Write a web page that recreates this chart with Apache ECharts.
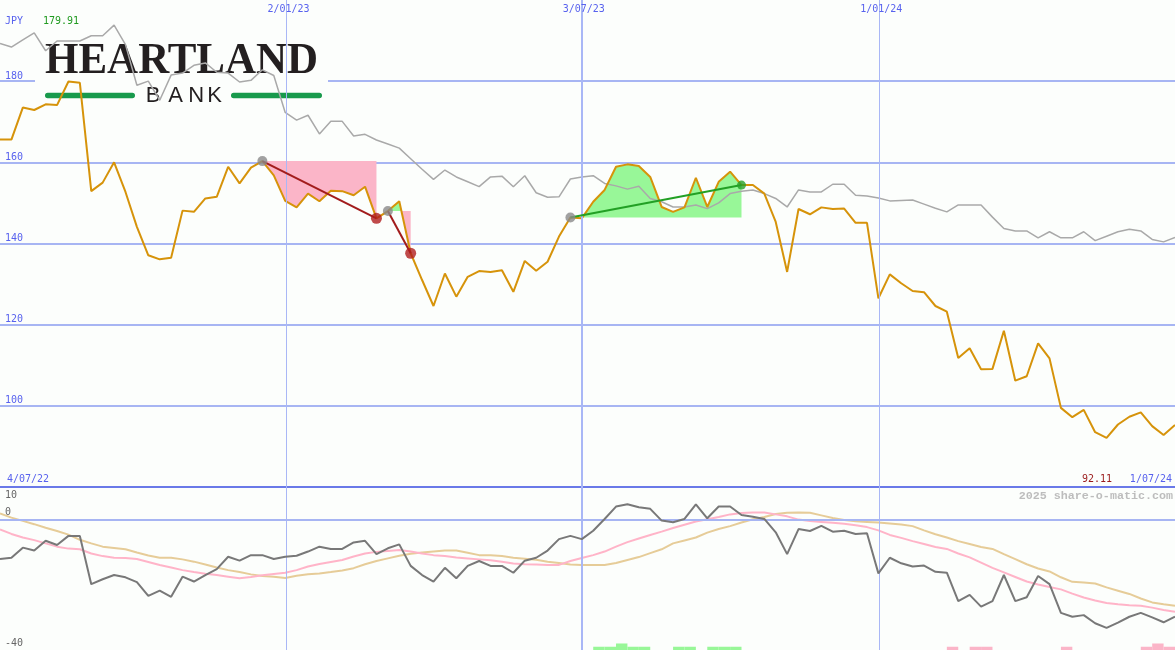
<!DOCTYPE html>
<html><head><meta charset="utf-8">
<script src="https://cdn.jsdelivr.net/npm/echarts@6/dist/echarts.min.js"></script>
<style>html,body{margin:0;padding:0;background:#fcfefc}#c{width:1175px;height:650px}</style>
</head><body><div id="c"></div>
<script>
// ---- data (weekly points, index 0 = first visible week) ----
const price = [
165.6,165.6,173.5,172.9,174.3,174.1,179.91,179.6,152.9,155.0,
160.0,152.7,144.1,137.1,136.1,136.5,148.1,147.8,151.1,151.5,
158.9,154.8,158.7,160.3,156.8,150.5,148.9,152.3,150.4,153.0,
152.9,151.9,154.0,146.2,148.0,150.4,137.6,131.0,124.6,132.6,
126.9,131.8,133.2,133.0,133.4,128.1,135.7,133.3,135.5,141.7,
146.4,146.2,150.3,153.2,158.9,159.5,159.1,156.4,149.0,147.8,
148.9,156.2,149.0,155.2,157.7,154.4,154.4,152.3,145.3,133.0,
148.5,147.2,148.9,148.5,148.6,145.1,145.1,126.5,132.4,130.2,
128.3,128.0,124.6,123.2,111.8,114.2,109.0,109.1,118.5,106.2,
107.3,115.4,111.7,99.5,97.2,99.0,93.5,92.11,95.4,97.3,
98.4,95.0,92.8,95.3];
const relative = [
189.3,188.4,190.2,191.9,187.5,189.9,189.9,189.9,191.2,191.2,
193.8,189.0,179.0,180.0,175.3,181.5,182.0,183.9,184.5,182.2,
182.0,179.8,180.2,182.8,181.4,172.3,170.4,171.6,167.0,170.1,
170.1,166.5,166.9,165.5,164.5,163.5,160.9,158.3,155.8,158.1,
156.4,155.2,154.0,156.4,156.6,154.0,156.7,152.5,151.4,151.5,
155.9,156.4,156.7,154.8,154.2,153.4,154.1,151.1,150.3,149.0,
149.0,149.5,148.6,150.0,152.3,152.9,153.2,152.3,151.1,149.0,
153.2,152.7,152.7,154.6,154.6,151.9,151.7,151.2,150.5,150.6,
150.7,149.7,148.7,147.8,149.5,149.5,149.5,146.5,143.7,143.1,
143.1,141.4,142.9,141.4,141.4,142.9,140.7,141.8,142.9,143.5,
143.1,141.0,140.4,141.5];
const oscillator = [
-12.1,-11.7,-8.6,-9.5,-6.5,-7.8,-5.0,-5.0,-19.8,-18.3,
-17.0,-17.7,-19.2,-23.4,-21.8,-23.7,-17.5,-19.0,-17.0,-15.2,
-11.4,-12.6,-10.9,-10.9,-12.1,-11.4,-11.1,-9.8,-8.3,-9.0,
-9.0,-7.0,-6.5,-10.6,-8.8,-7.6,-14.2,-17.0,-19.0,-14.8,
-18.0,-14.2,-12.7,-14.2,-14.2,-16.3,-12.6,-11.7,-9.5,-6.0,
-5.0,-6.0,-3.4,0.2,4.0,4.7,3.8,3.3,-0.3,-0.8,
0.2,4.7,0.4,4.0,4.0,1.4,0.9,0.2,-3.9,-10.6,
-2.9,-3.5,-1.9,-3.7,-3.4,-4.4,-4.2,-16.5,-11.7,-13.4,
-14.4,-14.1,-16.0,-16.3,-25.0,-23.1,-26.7,-25.0,-17.0,-25.0,
-23.8,-17.3,-19.8,-28.6,-29.8,-29.3,-31.8,-33.2,-31.6,-29.8,
-28.6,-30.0,-31.5,-29.8];
const oscFast = [
-3.0,-4.4,-5.5,-6.3,-7.3,-8.3,-8.9,-9.1,-10.4,-11.2,
-11.7,-11.8,-12.1,-13.0,-13.9,-14.7,-15.5,-16.1,-16.6,-17.0,
-17.5,-18.0,-17.6,-17.1,-16.7,-16.3,-15.5,-14.4,-13.6,-13.0,
-12.4,-11.3,-10.4,-9.9,-9.6,-9.3,-9.8,-10.4,-10.9,-11.2,
-11.6,-11.9,-12.2,-12.5,-12.9,-13.5,-13.7,-13.8,-13.9,-13.9,
-12.7,-11.8,-10.9,-9.8,-8.3,-6.9,-5.8,-4.7,-3.7,-2.6,
-1.6,-0.6,0.1,0.8,1.6,2.0,2.2,2.2,1.6,1.0,
0.0,-0.4,-0.7,-1.0,-1.3,-1.7,-2.3,-3.3,-4.7,-5.6,
-6.6,-7.5,-8.4,-9.0,-10.4,-11.6,-13.2,-14.8,-16.2,-17.6,
-19.0,-19.9,-20.7,-21.4,-22.7,-23.9,-24.8,-25.6,-26.0,-26.3,
-26.4,-27.0,-27.7,-28.3];
const oscSlow = [
1.9,0.6,-0.4,-1.4,-2.5,-3.5,-4.6,-6.2,-7.3,-8.3,
-8.7,-9.1,-10.1,-11.0,-11.7,-11.7,-12.2,-12.9,-13.8,-14.7,
-15.5,-16.1,-16.8,-17.3,-17.5,-17.9,-17.2,-16.8,-16.5,-16.1,
-15.6,-14.9,-13.7,-12.7,-11.9,-11.1,-10.5,-10.1,-9.8,-9.5,
-9.5,-10.2,-10.9,-10.9,-11.2,-11.7,-12.0,-12.3,-12.9,-13.3,
-13.8,-13.9,-13.9,-13.9,-13.3,-12.4,-11.5,-10.3,-9.1,-7.3,
-6.4,-5.5,-4.0,-2.9,-2.0,-0.9,0.1,0.8,1.7,2.1,
2.2,2.1,1.3,0.5,-0.1,-0.5,-0.7,-0.9,-1.2,-1.5,
-2.0,-3.3,-4.5,-5.5,-6.6,-7.5,-8.4,-9.0,-10.6,-12.1,
-13.7,-15.0,-15.9,-17.7,-19.1,-19.3,-19.6,-20.8,-21.8,-22.8,
-24.2,-25.4,-26.0,-26.4];
const trendStart = [23, 34, 50];
const trendEnd = [33, 36, 65];
const trendUp = [false, false, true];
const upSignalWeek = [52,53,54,55,56,59,60,62,63,64];
const upSignalLevel = [1,1,2,1,1,1,1,1,1,1];
const downSignalWeek = [83,85,86,93,100,101,102];
const downSignalLevel = [1,1,1,1,1,2,1];
const gridDates = ['2/01/23','3/07/23','1/01/24'];
const gridDatePos = [25.12, 51.0, 77.08];
const oscTicks = [10, 0, -40];
const firstDate = '4/07/22', lastDate = '1/07/24';
const currency = 'JPY', highLabel = '179.91', lowLabel = '92.11';
const copyright = '2025 share-o-matic.com';

// ---- chart ----
const pts = arr => arr.map((v, i) => [i, v]);
const blue = '#5862ee', gridBlue = '#a7b5f3', vBlue = '#a9b7f6';
const mono = 'DejaVu Sans Mono';
const lastIdx = price.length - 1;

function fillRender(params, api) {
  const z = params.dataIndex;
  const s = trendStart[z], e = trendEnd[z], lvl = price[s];
  const up = [api.coord([s, lvl])], dn = [api.coord([s, lvl])];
  for (let k = s; k <= e; k++) {
    if (k > s) {
      const a = price[k - 1] - lvl, b = price[k] - lvl;
      if (a * b < 0) { const c = api.coord([k - 1 + a / (a - b), lvl]); up.push(c); dn.push(c); }
    }
    up.push(api.coord([k, Math.max(price[k], lvl)]));
    dn.push(api.coord([k, Math.min(price[k], lvl)]));
  }
  up.push(api.coord([e, lvl])); dn.push(api.coord([e, lvl]));
  return { type: 'group', children: [
    { type: 'polygon', shape: { points: up }, style: { fill: '#98f798' } },
    { type: 'polygon', shape: { points: dn }, style: { fill: '#fbb5c8' } }
  ]};
}

const vLines = gridDatePos.map((p, k) => ({ xAxis: p, lineStyle: { color: vBlue, width: k === 1 ? 2 : 1, type: 'solid' } }));

const series = [
  { type: 'line', xAxisIndex: 0, yAxisIndex: 0, data: pts(price), showSymbol: false, z: 1,
    lineStyle: { opacity: 0 }, silent: true,
    markLine: { silent: true, symbol: 'none', label: { show: false }, lineStyle: { type: 'solid' }, data: vLines } },
  { type: 'custom', xAxisIndex: 0, yAxisIndex: 0, z: 2, renderItem: fillRender,
    data: trendStart.map(s => [s, price[s]]), encode: { x: 0, y: 1 }, silent: true },
  { type: 'line', xAxisIndex: 0, yAxisIndex: 0, data: pts(relative), showSymbol: false, z: 3,
    lineStyle: { color: '#a9a9a9', width: 1.5 } },
  { type: 'line', xAxisIndex: 0, yAxisIndex: 0, data: pts(price), showSymbol: false, z: 4,
    lineStyle: { color: '#d6930a', width: 2 } }
];
trendStart.forEach((s, k) => {
  series.push({ type: 'line', xAxisIndex: 0, yAxisIndex: 0, z: 5, showSymbol: false,
    data: [[s, price[s]], [trendEnd[k], price[trendEnd[k]]]],
    lineStyle: { color: trendUp[k] ? '#22a024' : '#a21c1c', width: 2 } });
});
series.push({ type: 'scatter', xAxisIndex: 0, yAxisIndex: 0, z: 6,
  data: trendStart.map(s => ({ value: [s, price[s]], symbolSize: 10, itemStyle: { color: '#8a8a8a' } }))
    .concat(trendEnd.map((e, k) => ({ value: [e, price[e]], symbolSize: trendUp[k] ? 9 : 11,
      itemStyle: { color: trendUp[k] ? '#26a028' : '#b01e1e' } }))) });
// lower panel
series.push({ type: 'line', xAxisIndex: 1, yAxisIndex: 1, data: pts(oscillator), showSymbol: false, z: 1,
  lineStyle: { opacity: 0 }, silent: true,
  markLine: { silent: true, symbol: 'none', label: { show: false }, lineStyle: { type: 'solid' },
    data: vLines.concat([{ yAxis: 0, lineStyle: { color: gridBlue, width: 2, type: 'solid' } }]) } });
series.push({ type: 'bar', xAxisIndex: 1, yAxisIndex: 2, z: 2, barWidth: 11.4,
  data: upSignalWeek.map((w, k) => ({ value: [w + 0.5, upSignalLevel[k]], itemStyle: { color: '#98f798' } }))
    .concat(downSignalWeek.map((w, k) => ({ value: [w + 0.5, downSignalLevel[k]], itemStyle: { color: '#fbb5c8' } }))) });
series.push({ type: 'line', xAxisIndex: 1, yAxisIndex: 1, data: pts(oscSlow), showSymbol: false, z: 3,
  lineStyle: { color: '#e6cc98', width: 2 } });
series.push({ type: 'line', xAxisIndex: 1, yAxisIndex: 1, data: pts(oscFast), showSymbol: false, z: 4,
  lineStyle: { color: '#ffb4c8', width: 2 } });
series.push({ type: 'line', xAxisIndex: 1, yAxisIndex: 1, data: pts(oscillator), showSymbol: false, z: 5,
  lineStyle: { color: '#787878', width: 2 } });

const option = {
  backgroundColor: '#fcfefc',
  animation: false,
  grid: [
    { left: 0, right: 0, top: 0, height: 487 },
    { left: 0, right: 0, top: 487, height: 163 }
  ],
  xAxis: [
    { gridIndex: 0, type: 'value', min: 0, max: lastIdx,
      axisLine: { show: true, onZero: false, lineStyle: { color: '#6a79e8', width: 2 } },
      axisTick: { show: false }, axisLabel: { show: false }, splitLine: { show: false } },
    { gridIndex: 1, type: 'value', min: 0, max: lastIdx, show: false }
  ],
  yAxis: [
    { gridIndex: 0, type: 'value', min: 80, max: 200, interval: 20,
      axisLine: { show: false }, axisTick: { show: false },
      axisLabel: { inside: true, margin: 5, verticalAlign: 'bottom', color: blue, fontFamily: mono, fontSize: 10,
        showMinLabel: false, showMaxLabel: false },
      splitLine: { show: true, showMinLine: false, showMaxLine: false, lineStyle: { color: gridBlue, width: 2 } } },
    { gridIndex: 1, type: 'value', min: -40, max: 10, show: false },
    { gridIndex: 1, type: 'value', min: 0, max: 50, show: false }
  ],
  series: series
};

const chart = echarts.init(document.getElementById('c'));
chart.setOption(option);

function txt(text, x, y, color, opts) {
  opts = opts || {};
  return { type: 'text', x: x, y: y, z: 10, silent: true,
    style: { text: text, fill: color, font: (opts.weight || 'normal') + ' ' + (opts.size || 10) + 'px ' + (opts.family || mono),
      textAlign: opts.align || 'left', align: opts.align || 'left',
      textVerticalAlign: opts.valign || 'middle', verticalAlign: opts.valign || 'middle' } };
}
const g = [];
// logo
g.push({ type: 'rect', z: 1, silent: true, shape: { x: 35, y: 35, width: 293, height: 73 }, style: { fill: '#fcfefc' } });
g.push({ type: 'text', z: 1, silent: true, x: 45, y: 61.5, scaleX: 0.955,
  style: { text: 'HEARTLAND', fill: '#231f20', font: 'bold 45px "Liberation Serif"', textAlign: 'left', align: 'left', textVerticalAlign: 'middle', verticalAlign: 'middle' } });
['B', 'A', 'N', 'K'].forEach((ch, k) => {
  g.push({ type: 'text', z: 1, silent: true, x: [153, 175.5, 196.3, 214.5][k], y: 95.5,
    style: { text: ch, fill: '#231f20', font: 'normal 22px "Liberation Sans"', textAlign: 'center', align: 'center', textVerticalAlign: 'middle', verticalAlign: 'middle' } });
});
g.push({ type: 'rect', z: 1, silent: true, shape: { x: 45, y: 92.7, width: 90, height: 5.5, r: 2.7 }, style: { fill: '#189a4c' } });
g.push({ type: 'rect', z: 1, silent: true, shape: { x: 231, y: 92.7, width: 91, height: 5.5, r: 2.7 }, style: { fill: '#189a4c' } });
// labels
g.push(txt(currency, 5, 21, blue));
g.push(txt(highLabel, 43, 21, '#1f9a1f'));
gridDates.forEach((d, k) => {
  const x = chart.convertToPixel({ xAxisIndex: 0 }, gridDatePos[k]);
  g.push(txt(d, x + 2, 9, blue, { align: 'center' }));
});
g.push(txt(firstDate, 7, 479, blue));
g.push(txt(lowLabel, 1112, 479, '#9a1a1a', { align: 'right' }));
g.push(txt(lastDate, 1172, 479, blue, { align: 'right' }));
g.push(txt(copyright, 1173, 496, '#bdbdbd', { align: 'right', weight: 'bold', size: 11.7, family: '"Liberation Mono"' }));
oscTicks.forEach((v, k) => {
  const y = chart.convertToPixel({ yAxisIndex: 1 }, v);
  if (k === 0) g.push(txt(String(v), 5, y + 3, '#666666', { valign: 'top' }));
  else g.push(txt(String(v), 5, y - 2, '#666666', { valign: 'bottom' }));
});
chart.setOption({ graphic: { elements: g } });
</script></body></html>
